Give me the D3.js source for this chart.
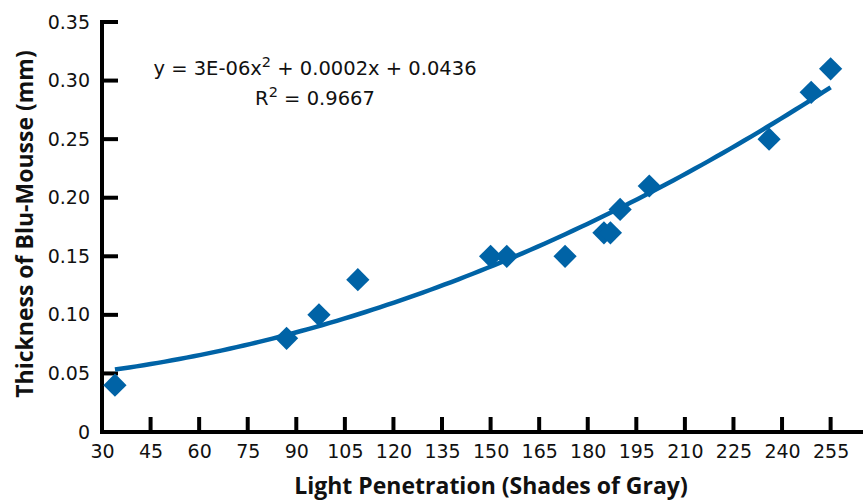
<!DOCTYPE html>
<html>
<head>
<meta charset="utf-8">
<script src="https://cdn.jsdelivr.net/npm/d3@7"></script>
<style>
  html, body { margin: 0; padding: 0; background: #fff; }
  svg { display: block; }
  text { font-family: "DejaVu Sans", sans-serif; fill: #111; }
  .title { font-family: "Open Sans", sans-serif; font-weight: bold; }
</style>
</head>
<body>
<svg id="chart" width="863" height="502"></svg>
<script>
// ---- data ----
const lightPenetration = [34, 87, 97, 109, 150, 155, 173, 185, 187, 190, 199, 236, 249, 255];
const thickness        = [0.04, 0.08, 0.10, 0.13, 0.15, 0.15, 0.15, 0.17, 0.17, 0.19, 0.21, 0.25, 0.29, 0.31];
const xTicks = [30, 45, 60, 75, 90, 105, 120, 135, 150, 165, 180, 195, 210, 225, 240, 255];
const yTicks = [0, 0.05, 0.10, 0.15, 0.20, 0.25, 0.30, 0.35];
const yTickLabels = ["0", "0.05", "0.10", "0.15", "0.20", "0.25", "0.30", "0.35"];
const xTitle = "Light Penetration (Shades of Gray)";
const yTitle = "Thickness of Blu-Mousse (mm)";
const eqCoef = ["3E-06", "0.0002", "0.0436"];
const rSquared = "0.9667";

const color = "#0063A6";
const svg = d3.select("#chart");

const x = d3.scaleLinear().domain([30, 265]).range([102, 863]);
const y = d3.scaleLinear().domain([0, 0.35]).range([432, 22]);

// quadratic least squares fit
function quadFit(xs, ys) {
  const n = xs.length;
  let s = [0,0,0,0,0], t = [0,0,0];
  for (let i = 0; i < n; i++) {
    const xi = xs[i], yi = ys[i];
    for (let k = 0; k < 5; k++) s[k] += Math.pow(xi, k);
    for (let k = 0; k < 3; k++) t[k] += Math.pow(xi, k) * yi;
  }
  const A = [[s[0], s[1], s[2], t[0]], [s[1], s[2], s[3], t[1]], [s[2], s[3], s[4], t[2]]];
  for (let i = 0; i < 3; i++) {
    let p = i;
    for (let r = i + 1; r < 3; r++) if (Math.abs(A[r][i]) > Math.abs(A[p][i])) p = r;
    [A[i], A[p]] = [A[p], A[i]];
    for (let r = 0; r < 3; r++) {
      if (r === i) continue;
      const f = A[r][i] / A[i][i];
      for (let c = i; c < 4; c++) A[r][c] -= f * A[i][c];
    }
  }
  return [A[0][3] / A[0][0], A[1][3] / A[1][1], A[2][3] / A[2][2]];
}
const [c0, c1, c2] = quadFit(lightPenetration, thickness);
const xMin = d3.min(lightPenetration), xMax = d3.max(lightPenetration);
const curve = d3.range(0, 101).map(i => {
  const xv = xMin + (xMax - xMin) * i / 100;
  return [xv, c0 + c1 * xv + c2 * xv * xv];
});

// axes
const xAxis = d3.axisBottom(x).tickValues(xTicks).tickSize(0).tickPadding(13);
const gx = svg.append("g").attr("transform", "translate(0,432)").call(xAxis);
gx.select(".domain").remove();
gx.selectAll("text").style("font-size", "19px").style("font-family", "DejaVu Sans").attr("fill", "#111");

const yAxis = d3.axisLeft(y).tickValues(yTicks).tickSize(0).tickPadding(12)
  .tickFormat((d, i) => yTickLabels[i]);
const gy = svg.append("g").attr("transform", "translate(102,0)").call(yAxis);
gy.select(".domain").remove();
gy.selectAll("text").style("font-size", "19px").style("font-family", "DejaVu Sans").attr("fill", "#111");

// inner ticks
svg.append("g").selectAll("line").data(xTicks.slice(1)).join("line")
  .attr("x1", d => x(d)).attr("x2", d => x(d))
  .attr("y1", 432).attr("y2", 417)
  .attr("stroke", "#000").attr("stroke-width", 4);
svg.append("g").selectAll("line").data(yTicks.slice(1)).join("line")
  .attr("x1", 102).attr("x2", 118)
  .attr("y1", d => y(d)).attr("y2", d => y(d))
  .attr("stroke", "#000").attr("stroke-width", 4);

// axis lines
svg.append("line").attr("x1", 102).attr("x2", 102).attr("y1", y(0.35) - 2).attr("y2", 434)
  .attr("stroke", "#000").attr("stroke-width", 4);
svg.append("line").attr("x1", 100).attr("x2", 863).attr("y1", 432).attr("y2", 432)
  .attr("stroke", "#000").attr("stroke-width", 4);

// trendline
svg.append("path").datum(curve)
  .attr("d", d3.line().x(d => x(d[0])).y(d => y(d[1])))
  .attr("fill", "none").attr("stroke", color).attr("stroke-width", 4.5);

// markers
const diamond = d3.symbol().type(d3.symbolSquare).size(270);
svg.append("g").selectAll("path").data(lightPenetration.map((v, i) => [v, thickness[i]])).join("path")
  .attr("d", diamond)
  .attr("transform", d => `translate(${x(d[0])},${y(d[1])}) rotate(45)`)
  .attr("fill", color);

// equation
const eq = svg.append("text").attr("x", 315).attr("y", 75).attr("text-anchor", "middle")
  .style("font-size", "19.5px");
eq.append("tspan").text(`y = ${eqCoef[0]}x`);
eq.append("tspan").attr("dy", -8).style("font-size", "14.5px").text("2");
eq.append("tspan").attr("dy", 8).text(` + ${eqCoef[1]}x + ${eqCoef[2]}`);
const r2 = svg.append("text").attr("x", 315).attr("y", 105).attr("text-anchor", "middle")
  .style("font-size", "19.5px");
r2.append("tspan").text("R");
r2.append("tspan").attr("dy", -8).style("font-size", "14.5px").text("2");
r2.append("tspan").attr("dy", 8).text(` = ${rSquared}`);

// titles
svg.append("text").attr("class", "title").attr("x", 491).attr("y", 494).attr("text-anchor", "middle")
  .style("font-size", "23px").text(xTitle);
svg.append("text").attr("class", "title").attr("transform", "translate(33,224) rotate(-90)").attr("text-anchor", "middle")
  .style("font-size", "23px").text(yTitle);
</script>
</body>
</html>
